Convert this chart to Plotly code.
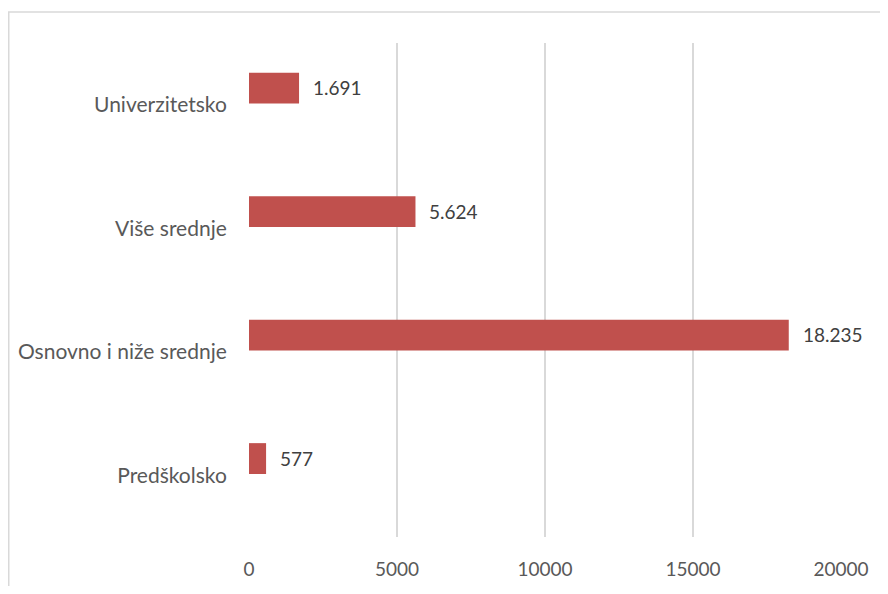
import plotly.graph_objects as go

categories = ["Predškolsko", "Osnovno i niže srednje", "Više srednje", "Univerzitetsko"]
values = [577, 18235, 5624, 1691]
tick_vals = [0, 5000, 10000, 15000, 20000]
tick_text = ["0", "5000", "10000", "15000", "20000"]

def fmt(v):
    return f"{v:,}".replace(",", ".")

FONT = "Lato"
GRAY = "#595959"

# figure sits inside an 8px body margin: page px = figure px + 8
W, H = 872, 578
L, R, T, B = 241, 39, 35, 49
plot_w = W - L - R
plot_h = H - T - B

fig = go.Figure()
fig.add_trace(go.Bar(
    x=values, y=categories, orientation="h",
    marker=dict(color="#C0504D", line=dict(width=0)),
    width=0.25, offset=0.01,
    hoverinfo="x+y",
))

for c, v in zip(categories, values):
    fig.add_annotation(x=v, y=c, text=fmt(v), showarrow=False,
                       xanchor="left", yanchor="middle", xshift=12, yshift=17,
                       font=dict(family=FONT, size=19, color="#404040"))

fig.update_layout(
    width=W, height=H,
    margin=dict(l=L, r=R, t=T, b=B, autoexpand=False),
    paper_bgcolor="white", plot_bgcolor="white",
    showlegend=False,
    font=dict(family=FONT, size=19, color=GRAY),
    xaxis=dict(range=[0, 20000], tickvals=tick_vals, ticktext=tick_text,
               showgrid=True, gridcolor="#D9D9D9", gridwidth=1.5,
               zeroline=False, showline=False, automargin=False,
               ticks="outside", ticklen=15, tickcolor="rgba(0,0,0,0)",
               tickfont=dict(family=FONT, size=19, color=GRAY)),
    yaxis=dict(categoryorder="array", categoryarray=categories,
               range=[-0.5, 3.5], showgrid=False, zeroline=False, showline=False,
               automargin=False,
               ticks="outside", ticklen=17, tickcolor="rgba(0,0,0,0)",
               tickfont=dict(family=FONT, size=21, color=GRAY)),
    shapes=[dict(type="rect", xref="paper", yref="paper",
                 x0=(0.75 - L) / plot_w, x1=1.3,
                 y0=-0.3, y1=(H - B - 4) / plot_h,
                 line=dict(color="#D9D9D9", width=1.5), layer="below")],
)

fig.write_html("out.html")
